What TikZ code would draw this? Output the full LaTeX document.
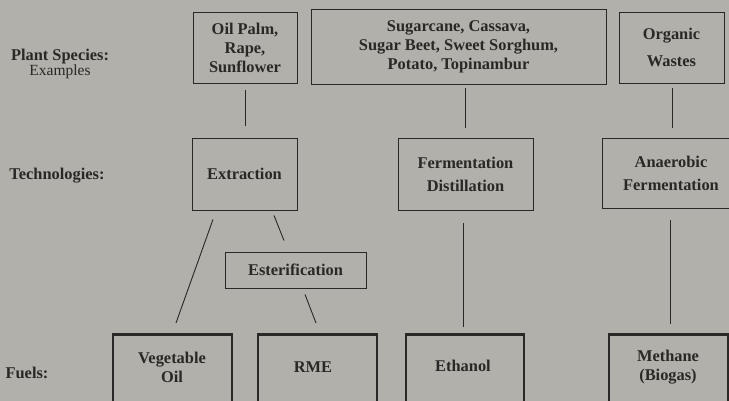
\documentclass[tikz,border=0pt]{standalone}
\usepackage{fontspec}
\setmainfont{Liberation Serif}
\usetikzlibrary{calc}
\definecolor{paper}{HTML}{B2B0AA}
\definecolor{ink}{HTML}{2A2826}
\tikzset{
  lbl/.style={text=ink, align=center, inner sep=0pt,
    font=\bfseries\fontsize{16.4}{19}\selectfont},
  box/.style={lbl, draw=ink, line width=0.9pt, rectangle},
  fuelbox/.style={draw=ink, line width=2.6pt, rectangle, inner sep=0pt,
    anchor=north, minimum width=119pt, minimum height=95pt},
  link/.style={draw=ink, line width=0.9pt},
}
\begin{document}
\begin{tikzpicture}[x=1pt, y=-1pt]
  \path[use as bounding box, clip] (0,0) rectangle (729,401);
  \fill[paper] (0,0) rectangle (729,401);

  % row headings
  \node[lbl] (hplant) at (60,57) {Plant Species:};
  \node[lbl, font=\fontsize{15.5}{19}\selectfont] (hex) at (60,71.5) {Examples};
  \node[lbl] (htech) at (57,176) {Technologies:};
  \node[lbl] (hfuel) at (27,373) {Fuels:};

  % plant species
  \node[box, minimum width=104pt, minimum height=71pt] (oil) at (245,47.5)
    {Oil Palm,\\Rape,\\Sunflower};
  \node[box, minimum width=295pt, minimum height=75pt] (sugar) at (458.5,46.5)
    {Sugarcane, Cassava,\\Sugar Beet, Sweet Sorghum,\\Potato, Topinambur};
  \node[box, minimum width=105pt, minimum height=71pt] (org) at (671.5,47.5)
    {Organic\\[8pt]Wastes};

  % technologies
  \node[box, minimum width=105pt, minimum height=72pt] (ext) at (244.5,174)
    {Extraction};
  \node[box, minimum width=135pt, minimum height=72pt] (ferm) at (465.5,174)
    {Fermentation\\[4pt]Distillation};
  \node[box, minimum width=138pt, minimum height=70pt] (anaer) at (671,173)
    {Anaerobic\\[4pt]Fermentation};
  \node[box, minimum width=141pt, minimum height=36pt] (ester) at (295.5,270)
    {Esterification};

  % fuels
  \node[fuelbox] (veg) at (172.5,333) {};
  \node[fuelbox] (rme) at (317.5,333) {};
  \node[fuelbox, minimum width=118pt] (eth) at (465,333) {};
  \node[fuelbox] (meth) at (668.5,333) {};
  \node[lbl] (vegt) at (172,367) {Vegetable\\Oil};
  \node[lbl] (rmet) at (313,367) {RME};
  \node[lbl] (etht) at (463,366) {Ethanol};
  \node[lbl] (metht) at (668,367) {Methane\\(Biogas)};

  % connectors
  \draw[link] ($(oil.south)+(0.5,7)$) -- ($(ext.north)+(1,-12)$);
  \draw[link] ($(ferm.north |- sugar.south)+(0,4)$) -- ($(ferm.north)+(0,-10)$);
  \draw[link] ($(org.south)+(0.5,5)$) -- ($(anaer.north)+(1,-10)$);
  \draw[link] ($(ext.south)+(-31.5,9)$) -- ($(veg.north)+(3.5,-10)$);
  \draw[link] ($(ext.south)+(29.5,5)$) -- ($(ester.north)+(-11.5,-11)$);
  \draw[link] ($(ester.south)+(9.5,6)$) -- ($(rme.north)+(-1.5,-10)$);
  \draw[link] ($(ferm.south)+(-2,13)$) -- ($(eth.north)+(-1.5,-6)$);
  \draw[link] ($(anaer.south)+(-1,12)$) -- ($(meth.north)+(1.5,-9)$);
\end{tikzpicture}
\end{document}
